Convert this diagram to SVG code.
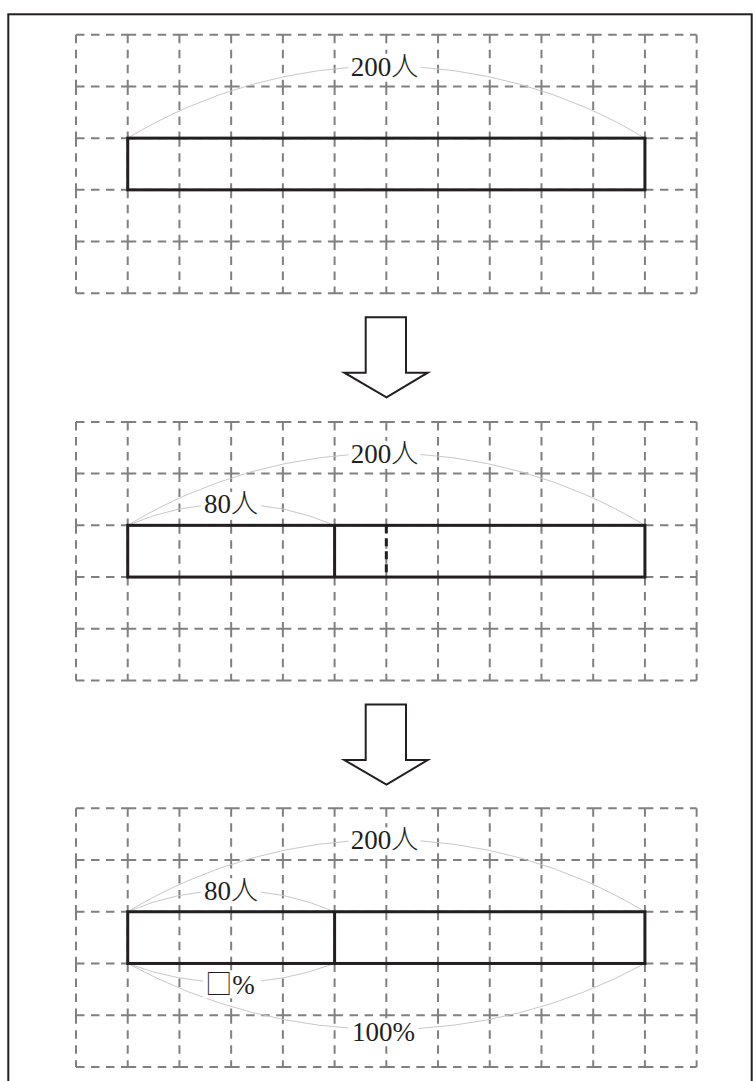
<svg xmlns="http://www.w3.org/2000/svg" xmlns:xlink="http://www.w3.org/1999/xlink" width="753" height="1081" viewBox="0 0 753 1081">
  <style>
    .grid { fill: none; stroke: #808080; stroke-width: 2; stroke-dasharray: 8.5 6.5; }
    .bar { fill: none; stroke: #231f20; stroke-width: 3; }
    .brace { fill: none; stroke: #c8c8c8; stroke-width: 1; }
    .lblbg { fill: #ffffff; stroke: none; }
    .lbl { font-family: "Liberation Serif", "Noto Sans CJK JP", serif; font-size: 27px; fill: #231f20; text-anchor: middle; }
    .cjk { font-family: "Noto Sans CJK JP", sans-serif; font-weight: 300; }
    .arrow { fill: #ffffff; stroke: #231f20; stroke-width: 2; stroke-linejoin: miter; }
    .frame { fill: none; stroke: #231f20; stroke-width: 2; }
  </style>
  <defs>
    <!-- 12 x 5 dashed grid, one subpath per cell edge so the dashes restart at every corner -->
    <path id="grid" class="grid" d="
      M76 0h51.72m0 0h51.72m0 0h51.72m0 0h51.72m0 0h51.72m0 0h51.72m0 0h51.72m0 0h51.72m0 0h51.72m0 0h51.72m0 0h51.72m0 0h51.72
      M76 51.72h51.72m0 0h51.72m0 0h51.72m0 0h51.72m0 0h51.72m0 0h51.72m0 0h51.72m0 0h51.72m0 0h51.72m0 0h51.72m0 0h51.72m0 0h51.72
      M76 103.44h51.72m0 0h51.72m0 0h51.72m0 0h51.72m0 0h51.72m0 0h51.72m0 0h51.72m0 0h51.72m0 0h51.72m0 0h51.72m0 0h51.72m0 0h51.72
      M76 155.16h51.72m0 0h51.72m0 0h51.72m0 0h51.72m0 0h51.72m0 0h51.72m0 0h51.72m0 0h51.72m0 0h51.72m0 0h51.72m0 0h51.72m0 0h51.72
      M76 206.88h51.72m0 0h51.72m0 0h51.72m0 0h51.72m0 0h51.72m0 0h51.72m0 0h51.72m0 0h51.72m0 0h51.72m0 0h51.72m0 0h51.72m0 0h51.72
      M76 258.6h51.72m0 0h51.72m0 0h51.72m0 0h51.72m0 0h51.72m0 0h51.72m0 0h51.72m0 0h51.72m0 0h51.72m0 0h51.72m0 0h51.72m0 0h51.72
      M76 0v51.72m0 0v51.72m0 0v51.72m0 0v51.72m0 0v51.72
      M127.72 0v51.72m0 0v51.72m0 0v51.72m0 0v51.72m0 0v51.72
      M179.44 0v51.72m0 0v51.72m0 0v51.72m0 0v51.72m0 0v51.72
      M231.16 0v51.72m0 0v51.72m0 0v51.72m0 0v51.72m0 0v51.72
      M282.88 0v51.72m0 0v51.72m0 0v51.72m0 0v51.72m0 0v51.72
      M334.6 0v51.72m0 0v51.72m0 0v51.72m0 0v51.72m0 0v51.72
      M386.32 0v51.72m0 0v51.72m0 0v51.72m0 0v51.72m0 0v51.72
      M438.04 0v51.72m0 0v51.72m0 0v51.72m0 0v51.72m0 0v51.72
      M489.76 0v51.72m0 0v51.72m0 0v51.72m0 0v51.72m0 0v51.72
      M541.48 0v51.72m0 0v51.72m0 0v51.72m0 0v51.72m0 0v51.72
      M593.2 0v51.72m0 0v51.72m0 0v51.72m0 0v51.72m0 0v51.72
      M644.92 0v51.72m0 0v51.72m0 0v51.72m0 0v51.72m0 0v51.72
      M696.64 0v51.72m0 0v51.72m0 0v51.72m0 0v51.72m0 0v51.72"/>
    <path id="downArrow" class="arrow" d="M365.7 0H406V55.4H427.7L386.5 80L344.3 55.4H365.7Z"/>
  </defs>

  <rect class="frame" x="8.3" y="14.3" width="743.4" height="1080"/>

  <!-- step 1: whole = 200 people -->
  <g id="panel1" transform="translate(0,34.7)">
    <use xlink:href="#grid"/>
    <path class="brace" d="M127.72 103.44A500 500 0 0 1 644.92 103.44"/>
    <rect class="bar" x="127.72" y="103.44" width="517.2" height="51.72"/>
    <g id="label-200-a">
      <rect class="lblbg" x="348.5" y="19" width="72" height="28"/>
      <text class="lbl" x="384.5" y="41">200<tspan class="cjk">人</tspan></text>
    </g>
  </g>

  <g id="arrow1" transform="translate(0,317.3)">
    <use xlink:href="#downArrow"/>
  </g>

  <!-- step 2: 80 of 200 people marked off -->
  <g id="panel2" transform="translate(0,421.9)">
    <use xlink:href="#grid"/>
    <path class="brace" d="M127.72 103.44A500 500 0 0 1 644.92 103.44"/>
    <path class="brace" d="M127.72 103.44A260 260 0 0 1 334.6 103.44"/>
    <rect class="bar" x="127.72" y="103.44" width="517.2" height="51.72"/>
    <line class="bar" x1="334.6" y1="103.44" x2="334.6" y2="155.16"/>
    <line class="bar" x1="386.32" y1="103.44" x2="386.32" y2="155.16" stroke-dasharray="8 5"/>
    <g id="label-200-b">
      <rect class="lblbg" x="348.5" y="19" width="72" height="28"/>
      <text class="lbl" x="384.5" y="41">200<tspan class="cjk">人</tspan></text>
    </g>
    <g id="label-80-b">
      <rect class="lblbg" x="201" y="70" width="60" height="28"/>
      <text class="lbl" x="231" y="91.5">80<tspan class="cjk">人</tspan></text>
    </g>
  </g>

  <g id="arrow2" transform="translate(0,704.6)">
    <use xlink:href="#downArrow"/>
  </g>

  <!-- step 3: part and whole as percentages -->
  <g id="panel3" transform="translate(0,808.3)">
    <use xlink:href="#grid"/>
    <path class="brace" d="M127.72 103.44A500 500 0 0 1 644.92 103.44"/>
    <path class="brace" d="M127.72 103.44A260 260 0 0 1 334.6 103.44"/>
    <path class="brace" d="M127.72 155.16A290 290 0 0 0 334.6 155.16"/>
    <path class="brace" d="M127.72 155.16A540 540 0 0 0 644.92 155.16"/>
    <rect class="bar" x="127.72" y="103.44" width="517.2" height="51.72"/>
    <line class="bar" x1="334.6" y1="103.44" x2="334.6" y2="155.16"/>
    <g id="label-200-c">
      <rect class="lblbg" x="348.5" y="19" width="72" height="28"/>
      <text class="lbl" x="384.5" y="41">200<tspan class="cjk">人</tspan></text>
    </g>
    <g id="label-80-c">
      <rect class="lblbg" x="201" y="70" width="60" height="28"/>
      <text class="lbl" x="231" y="91.5">80<tspan class="cjk">人</tspan></text>
    </g>
    <g id="label-pct">
      <rect class="lblbg" x="203" y="162" width="58" height="28"/>
      <text class="lbl" x="230" y="185.5"><tspan class="cjk">□</tspan>%</text>
    </g>
    <g id="label-100">
      <rect class="lblbg" x="348.5" y="210" width="70" height="28"/>
      <text class="lbl" x="383.4" y="232.4">100%</text>
    </g>
  </g>
</svg>
